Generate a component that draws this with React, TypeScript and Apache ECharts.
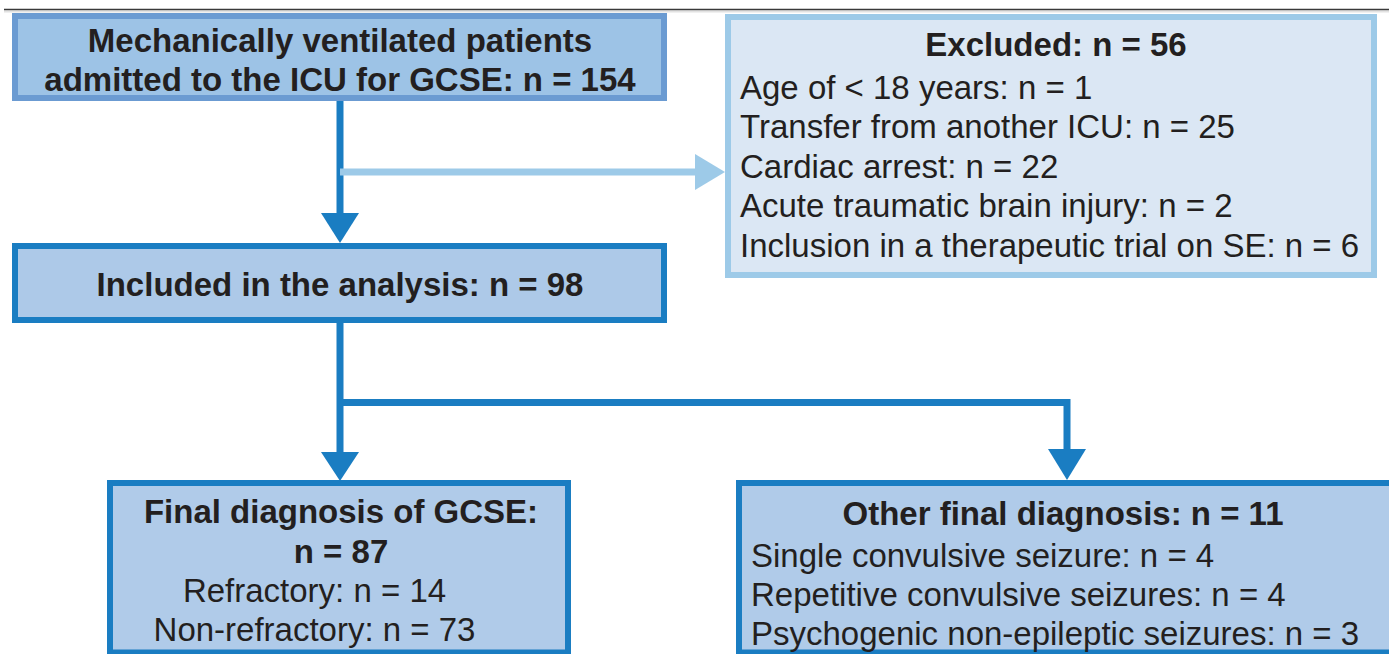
import React, { useEffect, useRef } from "react";
import * as echarts from "echarts";

// ---- data ----
const stageLabels = [
  "Mechanically ventilated patients",
  "admitted to the ICU for GCSE",
  "Included in the analysis",
  "Excluded",
  "Final diagnosis of GCSE:",
  "Other final diagnosis",
];
const stageCounts = [154, 98, 56, 87, 11];

const exclusionLabels = [
  "Age of < 18 years",
  "Transfer from another ICU",
  "Cardiac arrest",
  "Acute traumatic brain injury",
  "Inclusion in a therapeutic trial on SE",
];
const exclusionCounts = [1, 25, 22, 2, 6];

const gcseLabels = ["Refractory", "Non-refractory"];
const gcseCounts = [14, 73];

const otherLabels = [
  "Single convulsive seizure",
  "Repetitive convulsive seizures",
  "Psychogenic non-epileptic seizures",
];
const otherCounts = [4, 4, 3];

// ---- styles ----
const FONT = "'Liberation Sans', Arial, Helvetica, sans-serif";
const TXT = "#231f20";
const DARK = "#1a7dc2";
const LIGHT = "#9dcae8";
const FS = 33;

function txt(x: number, y: number, text: string, bold: boolean, align: string) {
  return {
    type: "text",
    x,
    y,
    style: {
      text,
      fill: TXT,
      font: `${bold ? "bold " : ""}${FS}px ${FONT}`,
      fontSize: FS,
      fontWeight: bold ? "bold" : "normal",
      fontFamily: FONT,
      textAlign: align,
      textVerticalAlign: "middle",
      verticalAlign: "middle",
    },
    z: 10,
  };
}

function box(x: number, y: number, w: number, h: number, fill: string, stroke: string) {
  return {
    type: "rect",
    shape: { x, y, width: w, height: h },
    style: { fill, stroke, lineWidth: 6 },
    z: 5,
  };
}

function seg(x1: number, y1: number, x2: number, y2: number, color: string) {
  return {
    type: "line",
    shape: { x1, y1, x2, y2 },
    style: { stroke: color, lineWidth: 7 },
    z: 3,
  };
}

function tri(points: number[][], color: string) {
  return {
    type: "polygon",
    shape: { points },
    style: { fill: color },
    z: 4,
  };
}

export default function App() {
  const ref = useRef<HTMLDivElement>(null);
  useEffect(() => {
    if (!ref.current) return;
    const chart = echarts.init(ref.current, null, { renderer: "svg" });
    const els: any[] = [];

    // top rule
    els.push({ type: "line", shape: { x1: 4, y1: 11.5, x2: 1389, y2: 11.5 }, style: { stroke: "#e2e2e2", lineWidth: 2 }, z: 1 });
    els.push({ type: "line", shape: { x1: 4, y1: 9.5, x2: 1389, y2: 9.5 }, style: { stroke: "#3a3a3a", lineWidth: 1.5 }, z: 2 });

    // connectors
    els.push(seg(340, 100, 340, 215, DARK));
    els.push(tri([[321, 213], [359, 213], [340, 243]], DARK));
    els.push(seg(340, 172, 697, 172, LIGHT));
    els.push(tri([[695, 154], [695, 190], [725, 172]], LIGHT));
    els.push(seg(340, 322, 340, 454, DARK));
    els.push(tri([[321, 452], [359, 452], [340, 481]], DARK));
    els.push({
      type: "polyline",
      shape: { points: [[340, 402.5], [1067, 402.5], [1067, 451]] },
      style: { stroke: DARK, lineWidth: 7, fill: "none", lineJoin: "miter" },
      z: 3,
    });
    els.push(tri([[1048, 449], [1086, 449], [1067, 480]], DARK));

    // boxes
    els.push(box(15, 16, 649, 82, "#9dc3e6", "#6b9bd2"));
    els.push(box(728, 17, 646, 258, "#dbe7f4", LIGHT));
    els.push(box(15, 246, 649, 74, "#adc9e8", DARK));
    els.push(box(110, 483, 458, 169.5, "#b0cbe9", DARK));
    els.push(box(739, 483, 720, 169.5, "#b0cbe9", DARK));

    // box 1
    els.push(txt(340, 40, stageLabels[0], true, "center"));
    els.push(txt(340, 79, `${stageLabels[1]}: n = ${stageCounts[0]}`, true, "center"));
    // box 3
    els.push(txt(340, 284.5, `${stageLabels[2]}: n = ${stageCounts[1]}`, true, "center"));
    // box 2
    els.push(txt(1056, 44, `${stageLabels[3]}: n = ${stageCounts[2]}`, true, "center"));
    exclusionLabels.forEach((l, i) => {
      els.push(txt(740, 87 + i * 39.5, `${l}: n = ${exclusionCounts[i]}`, false, "left"));
    });
    // box 4
    els.push(txt(341, 511, stageLabels[4], true, "center"));
    els.push(txt(341, 551, `n = ${stageCounts[3]}`, true, "center"));
    gcseLabels.forEach((l, i) => {
      els.push(txt(314.5, 590 + i * 39, `${l}: n = ${gcseCounts[i]}`, false, "center"));
    });
    // box 5
    els.push(txt(1063, 513, `${stageLabels[5]}: n = ${stageCounts[4]}`, true, "center"));
    otherLabels.forEach((l, i) => {
      els.push(txt(751, 555 + i * 39, `${l}: n = ${otherCounts[i]}`, false, "left"));
    });

    chart.setOption({
      animation: false,
      backgroundColor: "#ffffff",
      graphic: { elements: els },
    });
    return () => chart.dispose();
  }, []);
  return (
    <div
      ref={ref}
      style={{ position: "fixed", left: 0, top: 0, width: 1389, height: 654, background: "#fff" }}
    />
  );
}
